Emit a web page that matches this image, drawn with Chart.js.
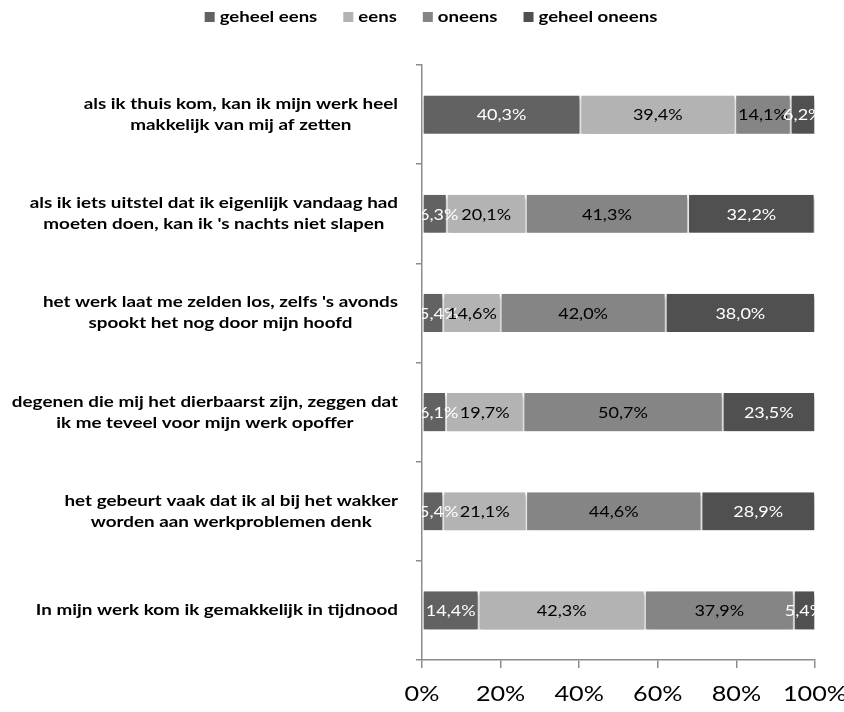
<!DOCTYPE html>
<html>
<head>
<meta charset="utf-8">
<script src="https://cdn.jsdelivr.net/npm/chart.js@4/dist/chart.umd.min.js"></script>
<style>
  html, body { margin: 0; padding: 0; background: #fff; }
  #wrap { width: 844px; height: 712px; }
</style>
</head>
<body>
<div id="wrap"><canvas id="chart" width="844" height="712"></canvas></div>
<script>
const statements = [
    ['als ik thuis kom, kan ik mijn werk heel', 'makkelijk van mij af zetten'],
    ['als ik iets uitstel dat ik eigenlijk vandaag had', "moeten doen, kan ik 's nachts niet slapen"],
    ["het werk laat me zelden los, zelfs 's avonds", 'spookt het nog door mijn hoofd'],
    ['degenen die mij het dierbaarst zijn, zeggen dat', 'ik me teveel voor mijn werk opoffer'],
    ['het gebeurt vaak dat ik al bij het wakker', 'worden aan werkproblemen denk'],
    ['In mijn werk kom ik gemakkelijk in tijdnood']
];

const seriesNames = ['geheel eens', 'eens', 'oneens', 'geheel oneens'];
const geheelEens   = [40.3, 6.3, 5.4, 6.1, 5.4, 14.4];
const eens         = [39.4, 20.1, 14.6, 19.7, 21.1, 42.3];
const oneens       = [14.1, 41.3, 42.0, 50.7, 44.6, 37.9];
const geheelOneens = [6.2, 32.2, 38.0, 23.5, 28.9, 5.4];
const xTicks = [0, 20, 40, 60, 80, 100];

const fills = ['#626262', '#b3b3b3', '#858585', '#505050'];
const labelColors = ['#ffffff', '#000000', '#000000', '#ffffff'];
const FONT = 'Lato, "Open Sans", sans-serif';
// the original picture is a bit wider than tall, so the text is stretched
const SX = 1.2;

function stretchText(ctx, text, x, y, align) {
    const w = ctx.measureText(text).width * SX;
    let left = x;
    if (align === 'center') left = x - w / 2;
    if (align === 'right') left = x - w;
    ctx.save();
    ctx.translate(left, y);
    ctx.scale(SX, 1);
    ctx.textAlign = 'left';
    ctx.fillText(text, 0, 0);
    ctx.restore();
}

const datasets = [geheelEens, eens, oneens, geheelOneens].map((data, i) => ({
    label: seriesNames[i],
    data: data,
    backgroundColor: fills[i],
    borderColor: '#ffffff',
    borderWidth: { left: 1, right: 1, top: 0, bottom: 0 },
    borderSkipped: false,
    barPercentage: 0.385,
    categoryPercentage: 1
}));

// soft shadow under the bars
const barShadow = {
    id: 'barShadow',
    beforeDatasetsDraw(chart) {
        const ctx = chart.ctx;
        ctx.save();
        ctx.shadowColor = 'rgba(0,0,0,0.35)';
        ctx.shadowBlur = 4;
        ctx.shadowOffsetX = 1;
        ctx.shadowOffsetY = 3;
    },
    afterDatasetsDraw(chart) {
        chart.ctx.restore();
    }
};

// percentage labels inside segments
const segmentLabels = {
    id: 'segmentLabels',
    afterDatasetsDraw(chart) {
        const ctx = chart.ctx;
        const area = chart.chartArea;
        ctx.save();
        ctx.beginPath();
        ctx.rect(area.left, area.top, area.right - area.left, area.bottom - area.top);
        ctx.clip();
        ctx.font = '15px ' + FONT;
        ctx.textBaseline = 'middle';
        chart.data.datasets.forEach((ds, i) => {
            const meta = chart.getDatasetMeta(i);
            ctx.fillStyle = labelColors[i];
            meta.data.forEach((bar, j) => {
                const txt = ds.data[j].toFixed(1).replace('.', ',') + '%';
                const w = ctx.measureText(txt).width * SX;
                let x = (bar.x + bar.base) / 2;
                // keep labels of thin first segments mostly inside the plot
                if (x - w / 2 < area.left - 3) x = area.left - 3 + w / 2;
                stretchText(ctx, txt, x, bar.y + 1, 'center');
            });
        });
        ctx.restore();
    }
};

// category labels, x tick labels and legend
const textLayer = {
    id: 'textLayer',
    afterDraw(chart) {
        const ctx = chart.ctx;
        const y = chart.scales.y;
        const x = chart.scales.x;
        ctx.save();
        ctx.fillStyle = '#000';
        ctx.textBaseline = 'middle';

        // statements: lines centred on each other, block right aligned
        ctx.font = 'bold 15.7px ' + FONT;
        const right = y.left - 18;
        const lineH = 21;
        statements.forEach((lines, j) => {
            const w = Math.max(...lines.map(l => ctx.measureText(l).width)) * SX;
            const cx = right - w / 2;
            const cy = y.getPixelForValue(j);
            lines.forEach((l, k) => {
                stretchText(ctx, l, cx, cy + (k - (lines.length - 1) / 2) * lineH, 'center');
            });
        });

        // x ticks
        ctx.font = '21px ' + FONT;
        xTicks.forEach(v => {
            stretchText(ctx, v + '%', x.getPixelForValue(v), x.bottom + 26, 'center');
        });

        // legend
        ctx.font = 'bold 15.5px ' + FONT;
        const box = 10, boxGap = 5, itemGap = 26;
        const widths = seriesNames.map(n => ctx.measureText(n).width * SX);
        const total = widths.reduce((a, b) => a + b, 0) + seriesNames.length * (box + boxGap) + (seriesNames.length - 1) * itemGap;
        let lx = chart.width / 2 + 9 - total / 2;
        const ly = 17;
        seriesNames.forEach((n, i) => {
            ctx.fillStyle = fills[i];
            ctx.fillRect(lx, ly - box / 2, box, box);
            lx += box + boxGap;
            ctx.fillStyle = '#000';
            stretchText(ctx, n, lx, ly, 'left');
            lx += widths[i] + itemGap;
        });
        ctx.restore();
    }
};

const ctx = document.getElementById('chart').getContext('2d');
const chart = new Chart(ctx, {
    type: 'bar',
    data: {
        labels: statements,
        datasets: datasets
    },
    options: {
        indexAxis: 'y',
        responsive: false,
        animation: false,
        layout: { padding: { left: 416, right: 29, top: 65, bottom: 44 } },
        plugins: {
            legend: { display: false },
            tooltip: { enabled: false }
        },
        scales: {
            x: {
                stacked: true,
                min: 0,
                max: 100,
                afterBuildTicks: scale => { scale.ticks = xTicks.map(v => ({ value: v })); },
                border: { color: '#8c8c8c', width: 1.5 },
                grid: { drawOnChartArea: false, color: '#8c8c8c', tickLength: 8, lineWidth: 1.5 },
                ticks: { display: false }
            },
            y: {
                stacked: true,
                border: { color: '#8c8c8c', width: 1.5 },
                grid: { drawOnChartArea: false, offset: true, color: '#8c8c8c', tickLength: 6, lineWidth: 1.5 },
                ticks: { display: false }
            }
        }
    },
    plugins: [barShadow, segmentLabels, textLayer]
});
</script>
</body>
</html>
